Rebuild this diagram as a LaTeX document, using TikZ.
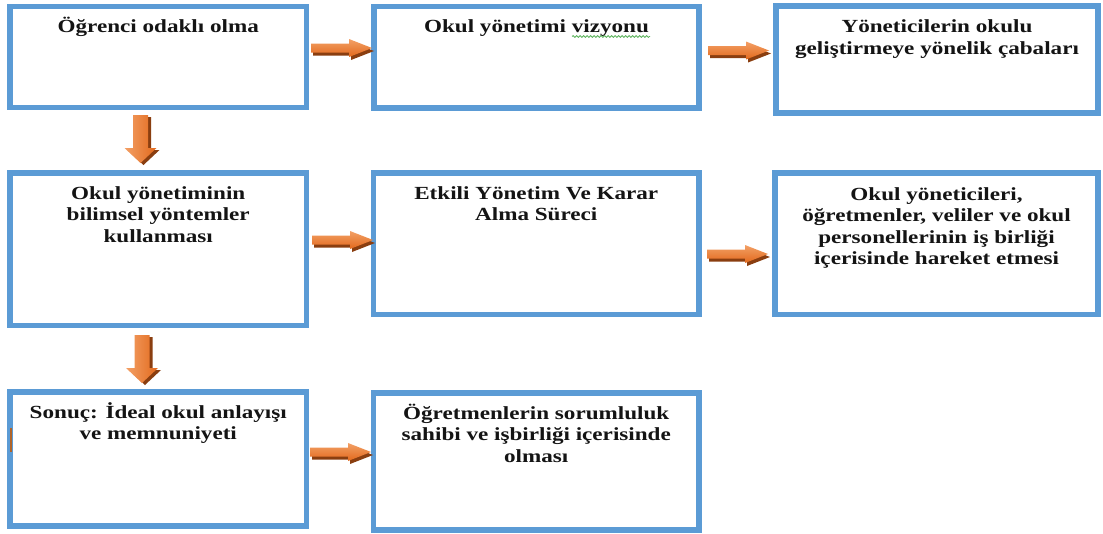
\documentclass[tikz,border=0pt]{standalone}
\usepackage{fontspec}
\setmainfont{Liberation Serif}[FakeStretch=1.25]
\usetikzlibrary{decorations.pathmorphing,calc}
\definecolor{boxblue}{HTML}{5B9BD5}
\definecolor{arrlight}{HTML}{F3A066}
\definecolor{arrdark}{HTML}{E2691C}
\definecolor{arrshadow}{HTML}{8A3E10}
\definecolor{spellgreen}{HTML}{5DB35D}
\definecolor{markbrown}{HTML}{B0652A}
\tikzset{
  box/.style={draw=boxblue, line width=5.5pt, fill=white, rectangle, outer sep=0pt, inner sep=0pt},
  lbl/.style={anchor=base, inner sep=0pt, outer sep=0pt, font=\fontsize{18.5}{21.5}\selectfont\bfseries, text=black!92},
  harrow/.pic={
    \fill[arrshadow, shift={(2,3)}] (0,-4.5) -- (38,-4.5) -- (38,-9) -- (61,0) -- (38,9) -- (38,4.5) -- (0,4.5) -- cycle;
    \shade[top color=arrlight, bottom color=arrdark] (0,-4.5) -- (38,-4.5) -- (38,-9) -- (61,0) -- (38,9) -- (38,4.5) -- (0,4.5) -- cycle;
  },
  varrow/.pic={
    \fill[arrshadow, shift={(3,2)}] (-7.5,0) -- (-7.5,33) -- (-16,33) -- (0,48) -- (16,33) -- (7.5,33) -- (7.5,0) -- cycle;
    \shade[left color=arrlight, right color=arrdark] (-7.5,0) -- (-7.5,33) -- (-16,33) -- (0,48) -- (16,33) -- (7.5,33) -- (7.5,0) -- cycle;
  }
}
\newcommand{\boxtext}[1]{\parbox[t]{310pt}{\centering #1}}
\begin{document}
\begin{tikzpicture}[x=1pt,y=-1pt]
\useasboundingbox (0,0) rectangle (1103,533);
% boxes
\node[box, minimum width=296.5pt, minimum height=101pt] (b1) at (158.25,57) {};
\node[box, minimum width=325pt, minimum height=101.5pt] (b2) at (536.5,57.25) {};
\node[box, minimum width=322pt, minimum height=107pt] (b3) at (937,59.5) {};
\node[box, minimum width=296.5pt, minimum height=152.5pt] (b4) at (158.25,249.25) {};
\node[box, minimum width=325.5pt, minimum height=141.5pt] (b5) at (536.25,243.75) {};
\node[box, minimum width=323pt, minimum height=141.5pt] (b6) at (936.5,243.75) {};
\node[box, minimum width=296.5pt, minimum height=134pt] (b7) at (158.25,459) {};
\node[box, minimum width=325.5pt, minimum height=137pt] (b8) at (536.25,461.5) {};
% texts
\node[lbl] (t1) at ([yshift=-26pt]b1.north) {\boxtext{Öğrenci odaklı olma}};
\node[lbl] (t2) at ([yshift=-26pt]b2.north) {\boxtext{Okul yönetimi vizyonu}};
\node[lbl] (t3) at ([yshift=-26.5pt]b3.north) {\boxtext{Yöneticilerin okulu\\geliştirmeye yönelik çabaları}};
\node[lbl] (t4) at ([yshift=-26pt]b4.north) {\boxtext{Okul yönetiminin\\bilimsel yöntemler\\kullanması}};
\node[lbl] (t5) at ([yshift=-26pt]b5.north) {\boxtext{Etkili Yönetim Ve Karar\\Alma Süreci}};
\node[lbl] (t6) at ([yshift=-27pt]b6.north) {\boxtext{Okul yöneticileri,\\öğretmenler, veliler ve okul\\personellerinin iş birliği\\içerisinde hareket etmesi}};
\node[lbl] (t7) at ([yshift=-26pt]b7.north) {\boxtext{Sonuç: İdeal okul anlayışı\\ve memnuniyeti}};
\node[lbl] (t8) at ([yshift=-26pt]b8.north) {\boxtext{Öğretmenlerin sorumluluk\\sahibi ve işbirliği içerisinde\\olması}};
% spell-check squiggle
\coordinate (sq1) at (572,36.5);
\coordinate (sq2) at (650,36.5);
\draw[spellgreen, line width=0.8pt, decorate, decoration={snake, amplitude=0.9pt, segment length=3.5pt}] (sq1) -- (sq2);
% small mark on left border of b7
\coordinate (m1) at (11,428);
\coordinate (m2) at (11,452);
\draw[markbrown, line width=2.2pt] (m1) -- (m2);
% block arrows
\pic at (311,48) {harrow};
\pic at (708,50.5) {harrow};
\pic at (312,240) {harrow};
\pic at (707,254) {harrow};
\pic at (310,452) {harrow};
\pic at (140.5,115) {varrow};
\pic at (142,335) {varrow};
\end{tikzpicture}
\end{document}
